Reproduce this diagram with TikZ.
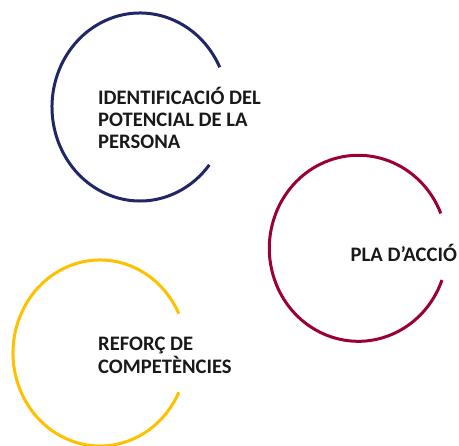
\documentclass[tikz,border=0pt]{standalone}
\usepackage{fontspec}
\setmainfont{Carlito}
\definecolor{navyc}{RGB}{32,38,104}
\definecolor{maroonc}{RGB}{155,0,50}
\definecolor{goldc}{RGB}{255,192,0}
\tikzset{
  ring/.style={line width=3pt},
  label/.style={anchor=west, inner sep=0pt, align=left, font=\fontsize{20.6}{22.3}\selectfont\bfseries, text=black!90}
}
\begin{document}
\begin{tikzpicture}[x=1pt,y=1pt]
\useasboundingbox (0,0) rectangle (459,446);
\coordinate (c1) at (140,339);
\coordinate (c2) at (358.3,197.7);
\coordinate (c3) at (100,93);
\draw[ring, navyc] ([shift={(25:88 and 94)}]c1) arc[start angle=25, end angle=322, x radius=88, y radius=94];
\draw[ring, maroonc] ([shift={(22:89 and 93)}]c2) arc[start angle=22, end angle=340, x radius=89, y radius=93];
\draw[ring, goldc] ([shift={(25:87 and 93)}]c3) arc[start angle=25, end angle=335, x radius=87, y radius=93];
\node[label] (t1) at (98,328) {IDENTIFICACIÓ DEL\\POTENCIAL DE LA\\PERSONA};
\node[label] (t2) at (350.5,192.7) {PLA D’ACCIÓ};
\node[label] (t3) at (98,90.7) {REFORÇ DE\\COMPETÈNCIES};
\end{tikzpicture}
\end{document}
